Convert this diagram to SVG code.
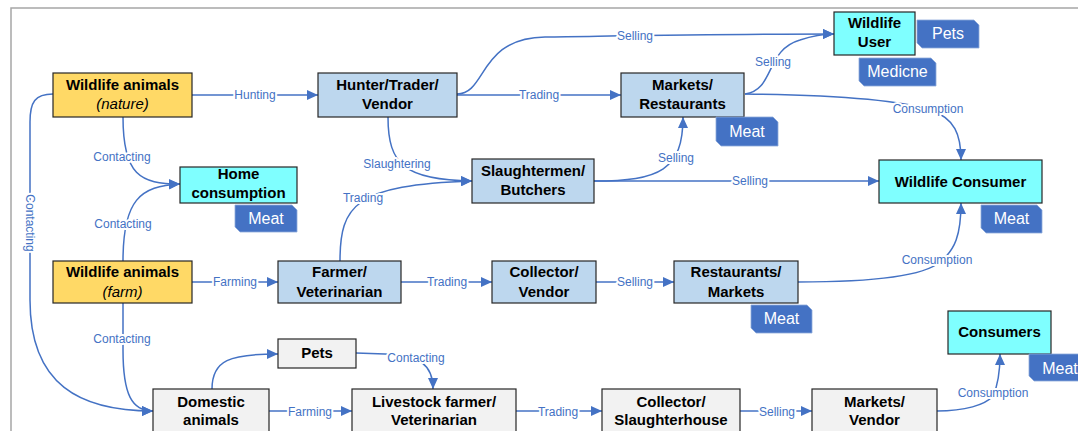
<svg xmlns="http://www.w3.org/2000/svg" width="1078" height="431" viewBox="0 0 1078 431">
<defs>
<style>
.frame{fill:none;stroke:#A6A6A6;stroke-width:1.5}
.box{stroke:#262626;stroke-width:1.2}
.y{fill:#FFD966}.b{fill:#BDD7EE}.c{fill:#7FFFFF}.g{fill:#F2F2F2}
.t{font-family:"Liberation Sans",Arial,sans-serif;font-size:15px;font-weight:bold;fill:#000;text-anchor:middle}
.it{font-weight:normal;font-style:italic}
.tag{fill:#4472C4;stroke:#8EA9DB;stroke-width:0.8}
.tt{font-family:"Liberation Sans",Arial,sans-serif;font-size:16px;fill:#fff;text-anchor:middle}
.e{fill:none;stroke:#4472C4;stroke-width:1.5}
.l{font-family:"Liberation Sans",Arial,sans-serif;font-size:12px;fill:#4472C4;text-anchor:middle;stroke:#fff;stroke-width:4;paint-order:stroke;stroke-linejoin:round}
</style>
<marker id="ah" markerWidth="11" markerHeight="10" refX="11" refY="5" orient="auto" markerUnits="userSpaceOnUse">
<path d="M0,0 L11,5 L0,10 Z" fill="#4472C4"/>
</marker>
</defs>
<rect width="1078" height="431" fill="#fff"/>
<rect class="frame" x="11" y="8" width="1100" height="500"/>

<g id="connectors">
<path class="e" d="M192,95 L318,95" marker-end="url(#ah)"/>
<path class="e" d="M457,95 L621,95" marker-end="url(#ah)"/>
<path class="e" d="M457,94 C487,94 478,38 545,37 C620,36 720,34 834,34" marker-end="url(#ah)"/>
<path class="e" d="M745,94 C775,90 765,50 800,40 C815,35 825,34 834,34" marker-end="url(#ah)"/>
<path class="e" d="M745,94 C830,95 900,100 930,110 C955,118 961,135 961,160" marker-end="url(#ah)"/>
<path class="e" d="M388,117 C388,165 405,180 472,181" marker-end="url(#ah)"/>
<path class="e" d="M340,261 C340,205 355,185 472,181" marker-end="url(#ah)"/>
<path class="e" d="M594,181 C660,181 683,170 683,117" marker-end="url(#ah)"/>
<path class="e" d="M594,181 L879,181" marker-end="url(#ah)"/>
<path class="e" d="M123,117 C123,175 140,184 180,184" marker-end="url(#ah)"/>
<path class="e" d="M123,261 C123,200 140,186 180,184" marker-end="url(#ah)"/>
<path class="e" d="M53,94 C35,94 30,102 30,122 L30,300 C30,385 80,411 153,411" marker-end="url(#ah)"/>
<path class="e" d="M123,303 L123,350 C123,395 132,411 153,411" marker-end="url(#ah)"/>
<path class="e" d="M192,282 L278,282" marker-end="url(#ah)"/>
<path class="e" d="M401,282 L492,282" marker-end="url(#ah)"/>
<path class="e" d="M596,282 L674,282" marker-end="url(#ah)"/>
<path class="e" d="M798,282 C880,282 925,275 940,262 C955,250 961,235 961,203" marker-end="url(#ah)"/>
<path class="e" d="M212,389 C212,360 230,354 278,354" marker-end="url(#ah)"/>
<path class="e" d="M356,353 L385,354 C420,355 433,365 433,389" marker-end="url(#ah)"/>
<path class="e" d="M269,411 L352,411" marker-end="url(#ah)"/>
<path class="e" d="M516,411 L602,411" marker-end="url(#ah)"/>
<path class="e" d="M740,411 L812,411" marker-end="url(#ah)"/>
<path class="e" d="M937,411 C965,411 985,405 993,396 C998,385 1000,370 1000,354" marker-end="url(#ah)"/>
<text class="l" x="255" y="99">Hunting</text>
<text class="l" x="539" y="99">Trading</text>
<text class="l" x="635" y="40">Selling</text>
<text class="l" x="773" y="66">Selling</text>
<text class="l" x="928" y="113">Consumption</text>
<text class="l" x="397" y="168">Slaughtering</text>
<text class="l" x="363" y="202">Trading</text>
<text class="l" x="676" y="162">Selling</text>
<text class="l" x="750" y="185">Selling</text>
<text class="l" x="122" y="161">Contacting</text>
<text class="l" x="123" y="228">Contacting</text>
<text class="l" transform="translate(26,223) rotate(90)" x="0" y="0">Contacting</text>
<text class="l" x="122" y="343">Contacting</text>
<text class="l" x="235" y="286">Farming</text>
<text class="l" x="447" y="286">Trading</text>
<text class="l" x="635" y="286">Selling</text>
<text class="l" x="937" y="264">Consumption</text>
<text class="l" x="416" y="362">Contacting</text>
<text class="l" x="310" y="416">Farming</text>
<text class="l" x="558" y="416">Trading</text>
<text class="l" x="777" y="416">Selling</text>
<text class="l" x="993" y="397">Consumption</text>
</g>

<g id="wild-nature"><rect class="box y" x="53" y="73" width="139" height="44"/><text class="t" x="122.5" y="90">Wildlife animals</text><text class="t it" x="122.5" y="109">(nature)</text></g>
<g id="hunter"><rect class="box b" x="318" y="73" width="139" height="44"/><text class="t" x="387.5" y="90">Hunter/Trader/</text><text class="t" x="387.5" y="109">Vendor</text></g>
<g id="markets-rest"><rect class="box b" x="621" y="73" width="123" height="44"/><text class="t" x="682.5" y="90">Markets/</text><text class="t" x="682.5" y="109">Restaurants</text></g>
<g id="wildlife-user"><rect class="box c" x="834" y="12" width="81" height="43"/><text class="t" x="874.5" y="28">Wildlife</text><text class="t" x="874.5" y="47">User</text></g>
<g id="tag-pets"><path class="tag" d="M917,20 L974,20 L979,25 L979,48 L922,48 L917,43 Z"/><text class="tt" x="948" y="39">Pets</text></g>
<g id="tag-medicine"><path class="tag" d="M859,58 L931,58 L936,63 L936,86 L864,86 L859,81 Z"/><text class="tt" x="897.5" y="77">Medicne</text></g>
<g id="tag-meat1"><path class="tag" d="M716,117 L773,117 L778,122 L778,146 L721,146 L716,141 Z"/><text class="tt" x="747" y="137">Meat</text></g>
<g id="home"><rect class="box c" x="180" y="167" width="117" height="36"/><text class="t" x="238.5" y="179">Home</text><text class="t" x="238.5" y="198">consumption</text></g>
<g id="tag-meat2"><path class="tag" d="M235,205 L292,205 L297,210 L297,232 L240,232 L235,227 Z"/><text class="tt" x="266" y="224">Meat</text></g>
<g id="slaughtermen"><rect class="box b" x="472" y="159" width="122" height="44"/><text class="t" x="533" y="176">Slaughtermen/</text><text class="t" x="533" y="195">Butchers</text></g>
<g id="wildlife-consumer"><rect class="box c" x="879" y="160" width="163" height="43"/><text class="t" x="960.5" y="187">Wildlife Consumer</text></g>
<g id="tag-meat3"><path class="tag" d="M981,205 L1037,205 L1042,210 L1042,233 L986,233 L981,228 Z"/><text class="tt" x="1011.5" y="224">Meat</text></g>
<g id="wild-farm"><rect class="box y" x="53" y="261" width="139" height="42"/><text class="t" x="122.5" y="277">Wildlife animals</text><text class="t it" x="122.5" y="297">(farm)</text></g>
<g id="farmer"><rect class="box b" x="278" y="261" width="123" height="42"/><text class="t" x="339.5" y="277">Farmer/</text><text class="t" x="339.5" y="297">Veterinarian</text></g>
<g id="collector-vendor"><rect class="box b" x="492" y="261" width="104" height="42"/><text class="t" x="544" y="277">Collector/</text><text class="t" x="544" y="297">Vendor</text></g>
<g id="rest-markets"><rect class="box b" x="674" y="261" width="124" height="42"/><text class="t" x="736" y="277">Restaurants/</text><text class="t" x="736" y="297">Markets</text></g>
<g id="tag-meat4"><path class="tag" d="M751,305 L807,305 L812,310 L812,333 L756,333 L751,328 Z"/><text class="tt" x="781.5" y="324">Meat</text></g>
<g id="consumers"><rect class="box c" x="948" y="311" width="103" height="43"/><text class="t" x="999.5" y="337">Consumers</text></g>
<g id="tag-meat5"><path class="tag" d="M1029,354 L1086,354 L1091,359 L1091,381 L1034,381 L1029,376 Z"/><text class="tt" x="1060" y="374">Meat</text></g>
<g id="pets"><rect class="box g" x="278" y="339" width="78" height="29"/><text class="t" x="317" y="358">Pets</text></g>
<g id="domestic"><rect class="box g" x="153" y="389" width="116" height="50"/><text class="t" x="211" y="407">Domestic</text><text class="t" x="211" y="425">animals</text></g>
<g id="livestock"><rect class="box g" x="352" y="389" width="164" height="50"/><text class="t" x="434" y="407">Livestock farmer/</text><text class="t" x="434" y="425">Veterinarian</text></g>
<g id="collector-slaughter"><rect class="box g" x="602" y="389" width="138" height="50"/><text class="t" x="671" y="407">Collector/</text><text class="t" x="671" y="425">Slaughterhouse</text></g>
<g id="markets-vendor"><rect class="box g" x="812" y="389" width="125" height="50"/><text class="t" x="874.5" y="407">Markets/</text><text class="t" x="874.5" y="425">Vendor</text></g>
</svg>
